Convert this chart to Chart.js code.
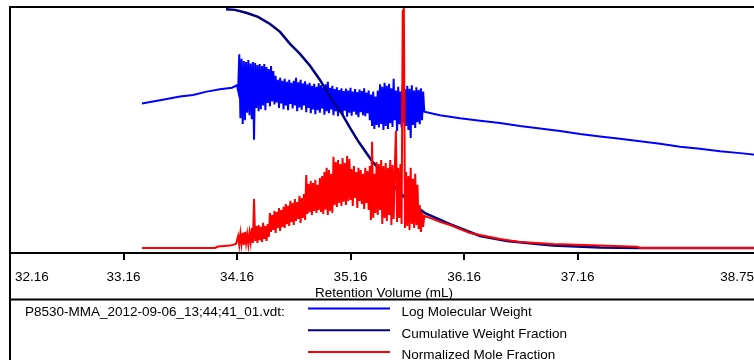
<!DOCTYPE html>
<html><head><meta charset="utf-8">
<script src="https://cdn.jsdelivr.net/npm/chart.js@4.4.1/dist/chart.umd.min.js"></script>
<style>html,body{margin:0;padding:0;background:#fff;overflow:hidden;width:754px;height:360px}canvas{display:block}</style>
</head><body>
<canvas id="c" width="764" height="360" style="width:764px;height:360px"></canvas>
<script>
const sampleName = 'P8530-MMA_2012-09-06_13;44;41_01.vdt:';
const seriesNames = ['Log Molecular Weight', 'Cumulative Weight Fraction', 'Normalized Mole Fraction'];
const seriesColors = ['#0000ff', '#000080', '#ff0000'];
const xTickValues = [32.16, 33.16, 34.16, 35.16, 36.16, 37.16, 38.75];
const xTickLabels = ['32.16', '33.16', '34.16', '35.16', '36.16', '37.16', '38.75'];
const axisTitle = 'Retention Volume (mL)';

// shared sampling grid of the noisy peak region (mL)
const noiseVolume = [
  34.17,34.18,34.19,34.20,34.21,34.22,34.23,34.24,34.25,34.26,
  34.27,34.28,34.29,34.30,34.31,34.32,34.33,34.34,34.35,34.36,
  34.37,34.38,34.39,34.40,34.41,34.42,34.43,34.44,34.45,34.46,
  34.47,34.48,34.49,34.50,34.51,34.52,34.53,34.54,34.55,34.56,
  34.57,34.58,34.59,34.60,34.61,34.62,34.63,34.64,34.65,34.66,
  34.67,34.68,34.69,34.70,34.71,34.72,34.73,34.74,34.75,34.76,
  34.77,34.78,34.79,34.80,34.81,34.82,34.83,34.84,34.85,34.86,
  34.87,34.88,34.89,34.90,34.91,34.92,34.93,34.94,34.95,34.96,
  34.97,34.98,34.99,35.00,35.01,35.02,35.03,35.04,35.05,35.06,
  35.07,35.08,35.09,35.10,35.11,35.12,35.13,35.14,35.15,35.16,
  35.17,35.18,35.19,35.20,35.21,35.22,35.23,35.24,35.25,35.26,
  35.27,35.28,35.29,35.30,35.31,35.32,35.33,35.34,35.35,35.36,
  35.37,35.38,35.39,35.40,35.41,35.42,35.43,35.44,35.45,35.46,
  35.47,35.48,35.49,35.50,35.51,35.52,35.53,35.54,35.55,35.56,
  35.57,35.58,35.59,35.60,35.61,35.62,35.63,35.64,35.65,35.66,
  35.67,35.68,35.69,35.70,35.71,35.72,35.73,35.74,35.75,35.76,
  35.77,35.78,35.79,35.80,35.81];

// Log Molecular Weight
const lmwLeftVolume = [33.323,33.42,33.541,33.658,33.772,33.893,34.01,34.116,34.16];
const lmwLeft = [5.04,5.08,5.13,5.18,5.21,5.28,5.33,5.36,5.41];
const lmwNoise = [
  5.30,6.04,4.74,5.95,4.62,5.90,4.70,5.88,4.85,5.92,
  4.80,5.85,4.72,5.88,4.30,5.86,4.95,5.82,4.88,5.84,
  4.92,5.80,5.00,5.84,4.90,5.78,5.05,5.74,4.98,5.80,
  5.08,5.70,5.02,5.60,5.06,5.52,4.95,5.56,5.04,5.50,
  4.92,5.54,5.00,5.48,4.90,5.52,5.03,5.46,4.94,5.50,
  5.00,5.56,4.88,5.47,4.96,5.52,4.91,5.45,5.00,5.49,
  4.86,5.43,4.95,5.46,4.84,5.40,4.92,5.44,4.82,5.38,
  4.90,5.45,4.85,5.41,4.94,5.37,4.81,5.43,4.88,5.48,
  4.84,5.36,4.92,5.40,4.80,5.33,4.88,5.37,4.78,5.31,
  4.86,5.35,4.80,5.29,4.89,5.34,4.77,5.30,4.85,5.36,
  4.79,5.28,4.87,5.33,4.81,5.27,4.76,5.32,4.86,5.29,
  4.80,5.35,4.78,5.26,4.84,5.30,4.70,5.22,4.58,5.28,
  4.52,5.18,4.60,5.30,4.55,5.43,4.62,5.38,4.50,5.46,
  4.58,5.40,4.52,5.44,4.64,5.35,4.56,5.54,4.70,5.30,
  4.48,5.38,4.62,5.28,4.55,5.42,4.66,5.33,4.58,5.40,
  4.50,5.34,4.34,5.41,4.60,5.30,4.54,5.37,4.66,5.31,
  4.62,5.35,4.70,5.28,4.87];
const lmwRightVolume = [35.816,35.948,36.125,36.301,36.477,36.653,36.83,37.006,37.182,37.358,37.534,37.711,37.887,38.063,38.239,38.415,38.592,38.75];
const lmwRight = [4.87,4.80,4.74,4.69,4.64,4.58,4.53,4.48,4.42,4.37,4.32,4.27,4.22,4.16,4.12,4.07,4.03,3.99];

// Cumulative Weight Fraction
const cwfVolume = [34.063,34.142,34.248,34.345,34.451,34.539,34.627,34.715,34.803,34.891,34.979,35.085,35.156,35.226,35.288,35.349,35.411,35.508,35.587,35.684,35.816,36.037,36.301,36.539,36.715,36.944,37.358,37.711,38.75];
const cwf = [0.999,0.996,0.983,0.967,0.937,0.904,0.854,0.812,0.762,0.703,0.632,0.561,0.502,0.448,0.406,0.364,0.331,0.280,0.234,0.192,0.146,0.100,0.050,0.029,0.021,0.010,0.002,0.000,0.000];

// Normalized Mole Fraction
const nmfLeftVolume = [33.323,33.966,33.993,34.098,34.151];
const nmfLeft = [0,0,0.006,0.010,0.017];
const nmfNoise = [
  0.050,0.013,0.060,0.017,0.063,0.013,0.067,0.021,0.058,0.015,
  0.063,0.025,0.084,0.021,0.205,0.029,0.092,0.021,0.096,0.033,
  0.088,0.025,0.105,0.038,0.092,0.029,0.100,0.046,0.146,0.067,
  0.138,0.075,0.155,0.063,0.150,0.084,0.167,0.071,0.159,0.088,
  0.172,0.084,0.184,0.100,0.176,0.092,0.197,0.109,0.188,0.096,
  0.205,0.113,0.192,0.121,0.218,0.105,0.209,0.126,0.226,0.117,
  0.305,0.142,0.268,0.150,0.280,0.138,0.272,0.155,0.285,0.146,
  0.264,0.159,0.293,0.151,0.301,0.142,0.318,0.160,0.335,0.138,
  0.326,0.155,0.310,0.146,0.381,0.180,0.360,0.172,0.368,0.188,
  0.351,0.176,0.376,0.193,0.355,0.180,0.385,0.197,0.372,0.201,
  0.330,0.176,0.343,0.209,0.318,0.167,0.335,0.197,0.326,0.184,
  0.310,0.163,0.335,0.188,0.322,0.159,0.343,0.117,0.444,0.126,
  0.310,0.146,0.360,0.138,0.351,0.159,0.368,0.100,0.343,0.126,
  0.355,0.113,0.335,0.138,0.368,0.096,0.347,0.121,0.330,0.490,
  0.109,0.335,0.125,0.351,0.100,0.990,1.000,0.084,0.318,0.092,
  0.301,0.075,0.335,0.100,0.290,0.084,0.310,0.096,0.264,0.079,
  0.180,0.067,0.150,0.088,0.134];
const nmfRightVolume = [35.86,35.948,36.037,36.125,36.213,36.301,36.477,36.653,36.944,37.358,37.684,37.711,38.75];
const nmfRight = [0.126,0.109,0.096,0.079,0.063,0.054,0.038,0.025,0.017,0.010,0.005,0.0,0.0];

function pts(xs, ys) { return xs.map((x, i) => ({ x: x, y: ys[i] })); }
const lmwPoints = pts([...lmwLeftVolume, ...noiseVolume, ...lmwRightVolume], [...lmwLeft, ...lmwNoise, ...lmwRight]);
const cwfPoints = pts(cwfVolume, cwf);
const nmfPoints = pts([...nmfLeftVolume, ...noiseVolume, ...nmfRightVolume], [...nmfLeft, ...nmfNoise, ...nmfRight]);

const FONT = '"Liberation Sans", Arial, sans-serif';

const framePlugin = {
  id: 'frame',
  beforeDraw(chart) {
    const c = chart.ctx; c.save(); c.fillStyle = '#fff'; c.fillRect(0, 0, chart.width, chart.height); c.restore();
  },
  afterDraw(chart) {
    const ctx = chart.ctx, a = chart.chartArea, xs = chart.scales.x;
    ctx.save();
    ctx.strokeStyle = '#000'; ctx.lineWidth = 2;
    ctx.strokeRect(a.left, a.top, a.right - a.left, chart.height + 20 - a.top);
    const sepY = xs.bottom + 0.5;
    ctx.beginPath(); ctx.moveTo(a.left, sepY); ctx.lineTo(a.right, sepY); ctx.stroke();
    // tick labels
    ctx.font = '13.5px ' + FONT; ctx.fillStyle = '#000'; ctx.textBaseline = 'alphabetic';
    const n = xs.ticks.length;
    xs.ticks.forEach((t, i) => {
      const px = xs.getPixelForValue(t.value);
      let x = px;
      if (i === 0) { ctx.textAlign = 'left'; x = px + 5; }
      else if (i === n - 1) { ctx.textAlign = 'right'; x = 754; }
      else ctx.textAlign = 'center';
      ctx.fillText(xTickLabels[i], x, a.bottom + 27.5);
    });
    // legend
    ctx.textAlign = 'left';
    ctx.fillText(sampleName, 25, sepY + 16.5);
    chart.data.datasets.forEach((ds, i) => {
      const base = sepY + 16.5 + i * 21.7;
      ctx.strokeStyle = seriesColors[i]; ctx.lineWidth = 2;
      ctx.beginPath(); ctx.moveTo(308, base - 7.5); ctx.lineTo(390, base - 7.5); ctx.stroke();
      ctx.fillStyle = '#000';
      ctx.fillText(ds.label, 401.5, base);
    });
    ctx.restore();
  }
};

new Chart(document.getElementById('c'), {
  type: 'line',
  data: {
    datasets: [
      { label: seriesNames[0], data: lmwPoints, borderColor: seriesColors[0], borderWidth: 2, yAxisID: 'yLMW', order: 3 },
      { label: seriesNames[1], data: cwfPoints, borderColor: seriesColors[1], borderWidth: 2.5, yAxisID: 'yFrac', order: 2 },
      { label: seriesNames[2], data: nmfPoints, borderColor: seriesColors[2], borderWidth: 2, yAxisID: 'yFrac', order: 1 }
    ]
  },
  options: {
    responsive: false, animation: false, events: [],
    layout: { padding: { left: 10, right: 6, top: 7, bottom: 61 } },
    elements: { point: { radius: 0 }, line: { tension: 0 } },
    plugins: { legend: { display: false }, tooltip: { enabled: false } },
    scales: {
      x: {
        type: 'linear', min: 32.16, max: 38.75,
        afterBuildTicks: (s) => { s.ticks = xTickValues.map(v => ({ value: v })); },
        afterFit: (s) => { s.height = 46; },
        ticks: { display: false },
        grid: { display: true, drawOnChartArea: false, drawTicks: true, tickLength: 7, color: '#000', lineWidth: 2 },
        border: { display: true, color: '#000', width: 2 },
        title: { display: true, text: axisTitle, color: '#000', font: { family: FONT, size: 13.5, lineHeight: 0.8 }, padding: { top: 0, bottom: 0 } }
      },
      yLMW: { display: false, min: 2, max: 7 },
      yFrac: { display: false, min: -0.021, max: 1.008 }
    }
  },
  plugins: [framePlugin]
});
</script>
</body></html>
